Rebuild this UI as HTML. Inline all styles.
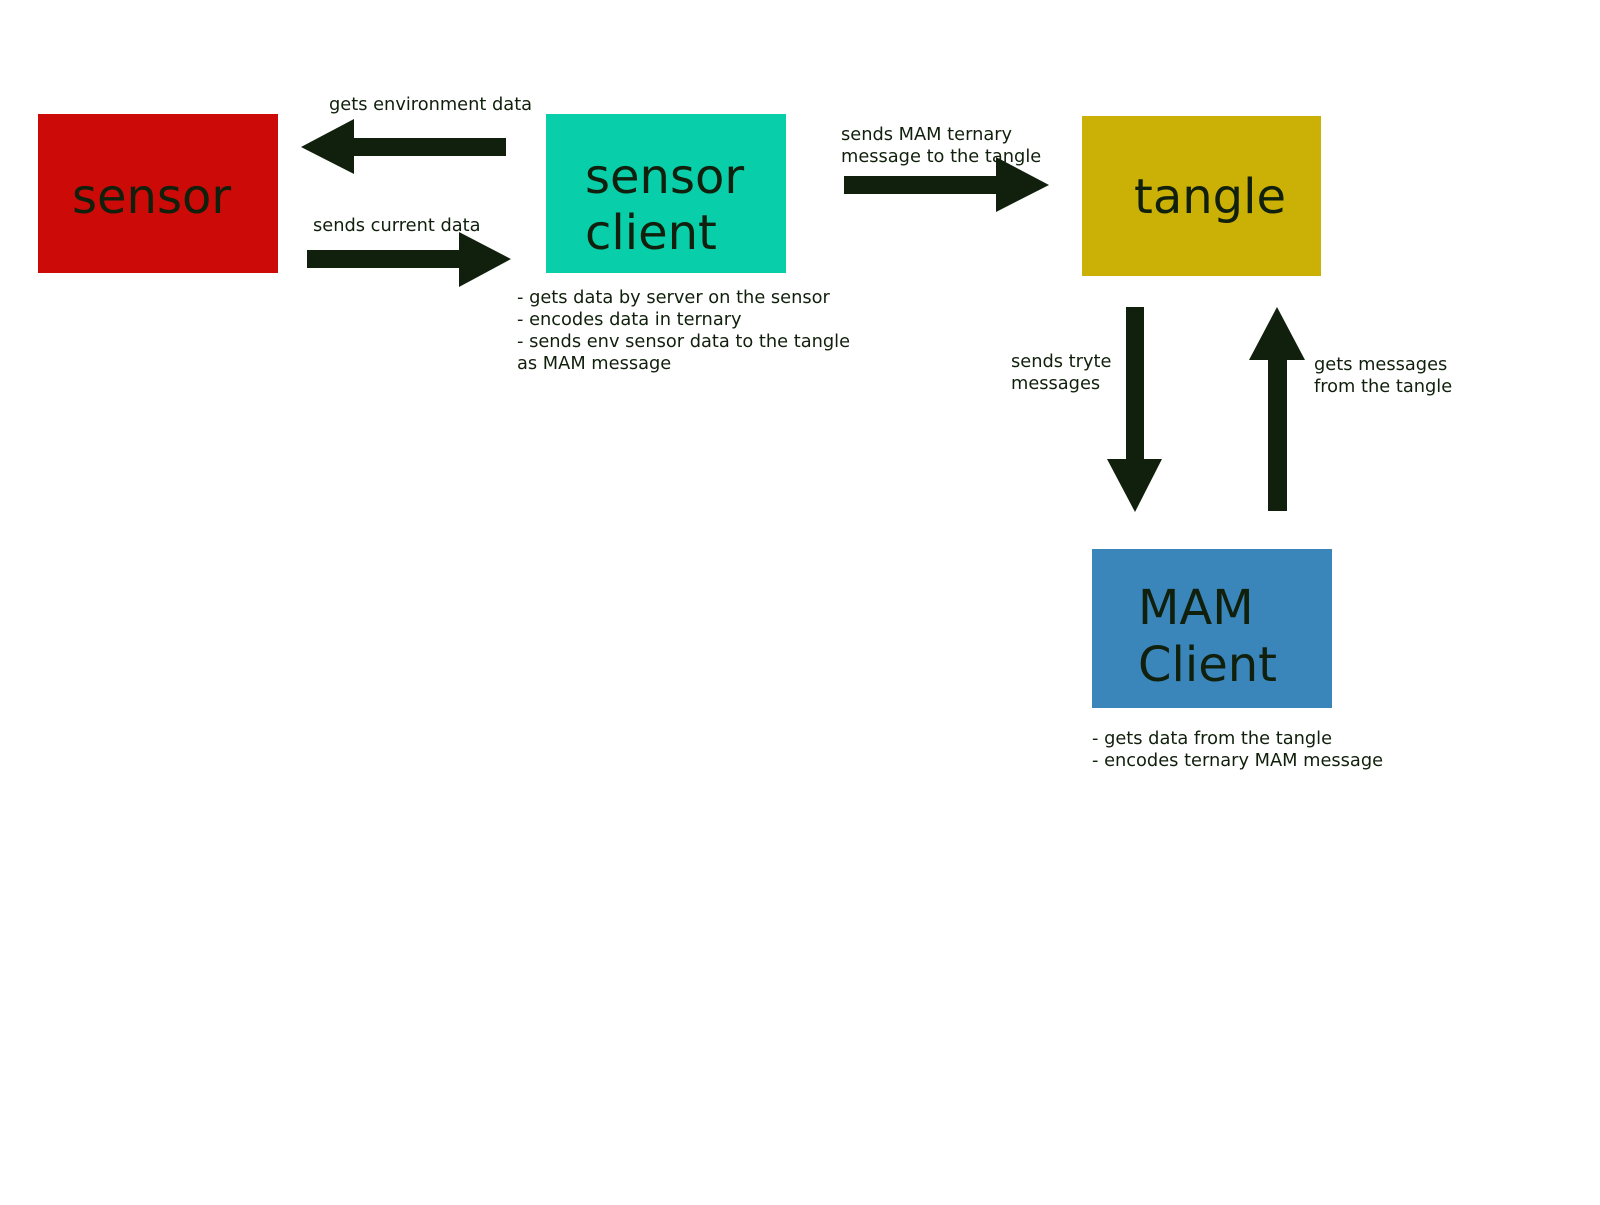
<!DOCTYPE html>
<html><head><style>body{margin:0;background:#fff}</style></head><body>
<svg width="1600" height="1200" xmlns="http://www.w3.org/2000/svg" font-family="DejaVu Sans, sans-serif">
<rect x="38" y="114" width="240" height="159" fill="#cc0a08"/>
<rect x="546" y="114" width="240" height="159" fill="#08cea9"/>
<rect x="1082" y="116" width="239" height="160" fill="#cbb106"/>
<rect x="1092" y="549" width="240" height="159" fill="#3a85ba"/>
<g fill="#10200c">
<polygon points="301,147 354,119 354,138 506,138 506,156 354,156 354,174"/>
<polygon points="307,250 459,250 459,232 511,259 459,287 459,268 307,268"/>
<polygon points="844,176 996,176 996,157 1049,185 996,212 996,194 844,194"/>
<polygon points="1126,307 1144,307 1144,459 1162,459 1135,512 1107,459 1126,459"/>
<polygon points="1277,307 1305,360 1287,360 1287,511 1268,511 1268,360 1249,360"/>
</g>
<g fill="#10200c" font-size="48">
<text x="72" y="213">sensor</text>
<text x="585" y="193">sensor</text>
<text x="585" y="249">client</text>
<text x="1134" y="213">tangle</text>
<text x="1138" y="624">MAM</text>
<text x="1138" y="681">Client</text>
</g>
<g fill="#10200c" font-size="17.8">
<text x="329" y="110">gets environment data</text>
<text x="313" y="231">sends current data</text>
<text x="841" y="140">sends MAM ternary</text>
<text x="841" y="162">message to the tangle</text>
<text x="517" y="303">- gets data by server on the sensor</text>
<text x="517" y="325">- encodes data in ternary</text>
<text x="517" y="347">- sends env sensor data to the tangle</text>
<text x="517" y="369">as MAM message</text>
<text x="1011" y="367">sends tryte</text>
<text x="1011" y="389">messages</text>
<text x="1314" y="370">gets messages</text>
<text x="1314" y="392">from the tangle</text>
<text x="1092" y="744">- gets data from the tangle</text>
<text x="1092" y="766">- encodes ternary MAM message</text>
</g>
</svg>
</body></html>
